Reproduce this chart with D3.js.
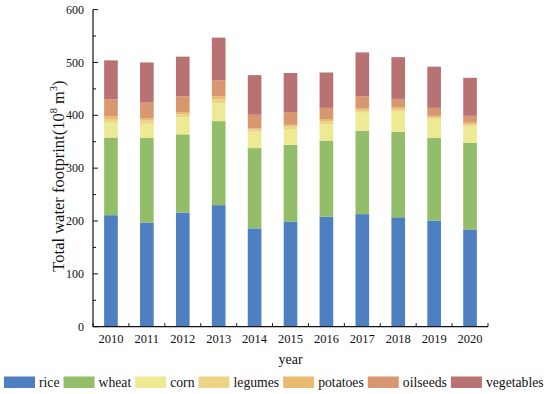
<!DOCTYPE html>
<html><head><meta charset="utf-8">
<script src="https://cdn.jsdelivr.net/npm/d3@7"></script>
<style>body{margin:0;background:#fff}svg{display:block}text{font-family:"Liberation Serif","Times New Roman",serif;fill:#111}</style>
</head><body><svg id="c" width="550" height="394"></svg>
<script>
const years = ["2010","2011","2012","2013","2014","2015","2016","2017","2018","2019","2020"];
const seriesNames = ["rice","wheat","corn","legumes","potatoes","oilseeds","vegetables"];
const rice       = [211,197,216,230,186,199,208,213,207,201,184];
const wheat      = [147,160,148,159,152,145,144,158,162,156,164];
const corn       = [ 28, 27, 32, 34, 31, 30, 31, 34, 38, 35, 31];
const legumes    = [  7,  6,  6,  8,  4,  5,  6,  5,  5,  4,  4];
const potatoes   = [  5,  4,  4,  5,  2,  3,  4,  3,  3,  3,  3];
const oilseeds   = [ 32, 30, 30, 30, 26, 24, 21, 23, 16, 15, 13];
const vegetables = [ 74, 76, 75, 81, 75, 74, 67, 83, 79, 78, 72];
const yTicks = [0,100,200,300,400,500,600];
const colors = ["#4e7fc0","#93bd69","#eeea94","#ecd385","#e8bb6e","#d8976f","#b97273"];

const seriesVals = [rice,wheat,corn,legumes,potatoes,oilseeds,vegetables];
const table = years.map((y,i)=>{const o={year:y};seriesNames.forEach((s,k)=>o[s]=seriesVals[k][i]);return o;});
const stack = d3.stack().keys(seriesNames)(table);

const svg = d3.select("#c");
const m = {l:93, r:488, t:9.6, b:326.7};
const x = d3.scaleBand().domain(years).range([m.l,m.r]).paddingInner(0.62).paddingOuter(0.31);
const y = d3.scaleLinear().domain([0,600]).range([m.b,m.t]);

svg.append("g").selectAll("g").data(stack).join("g")
  .attr("fill",(d,i)=>colors[i])
  .selectAll("rect").data(d=>d).join("rect")
  .attr("x",d=>x(d.data.year)).attr("width",x.bandwidth())
  .attr("y",d=>y(d[1])).attr("height",d=>y(d[0])-y(d[1]));

// y axis
const ya = svg.append("g");
ya.append("line").attr("x1",m.l).attr("x2",m.l).attr("y1",y(600)).attr("y2",y(0)).attr("stroke","#111").attr("stroke-width",1.2);
ya.selectAll("line.mn").data(d3.range(0,601,50)).join("line").attr("class","mn")
  .attr("x1",m.l).attr("x2",d=>m.l+(d%100===0?5:3)).attr("y1",d=>y(d)).attr("y2",d=>y(d)).attr("stroke","#111").attr("stroke-width",1);
ya.selectAll("text").data(yTicks).join("text").attr("x",m.l-9).attr("y",d=>y(d)).attr("dy","0.34em")
  .attr("text-anchor","end").attr("font-size",12).text(d=>d);

// x axis
const xa = svg.append("g");
xa.append("line").attr("x1",m.l).attr("x2",m.r).attr("y1",m.b).attr("y2",m.b).attr("stroke","#111").attr("stroke-width",1.2);
const step = x.step();
xa.selectAll("line.t").data(d3.range(0,years.length+1)).join("line").attr("class","t")
  .attr("x1",k=>m.l+k*step).attr("x2",k=>m.l+k*step).attr("y1",m.b).attr("y2",m.b-3.5).attr("stroke","#111");
xa.selectAll("text").data(years).join("text").attr("x",d=>x(d)+x.bandwidth()/2).attr("y",343)
  .attr("text-anchor","middle").attr("font-size",12.5).text(d=>d);

svg.append("text").attr("x",(m.l+m.r)/2).attr("y",364).attr("text-anchor","middle").attr("font-size",14).text("year");

const yl = svg.append("text").attr("transform","translate(64,176) rotate(-90)").attr("text-anchor","middle").attr("font-size",16.5);
yl.append("tspan").text("Total water footprint(10");
yl.append("tspan").attr("font-size",10.5).attr("dy",-7).text("8");
yl.append("tspan").attr("dy",7).text(" m");
yl.append("tspan").attr("font-size",10.5).attr("dy",-7).text("3");
yl.append("tspan").attr("dy",7).text(")");

// legend
const lg = svg.append("g");
let lx = 4;
seriesNames.forEach((s,i)=>{
  lg.append("rect").attr("x",lx).attr("y",376.5).attr("width",31).attr("height",11.5).attr("fill",colors[i]);
  const t = lg.append("text").attr("x",lx+35).attr("y",386.5).attr("font-size",13.7).text(s);
  lx += 35 + t.node().getComputedTextLength() + 4;
});
</script></body></html>
